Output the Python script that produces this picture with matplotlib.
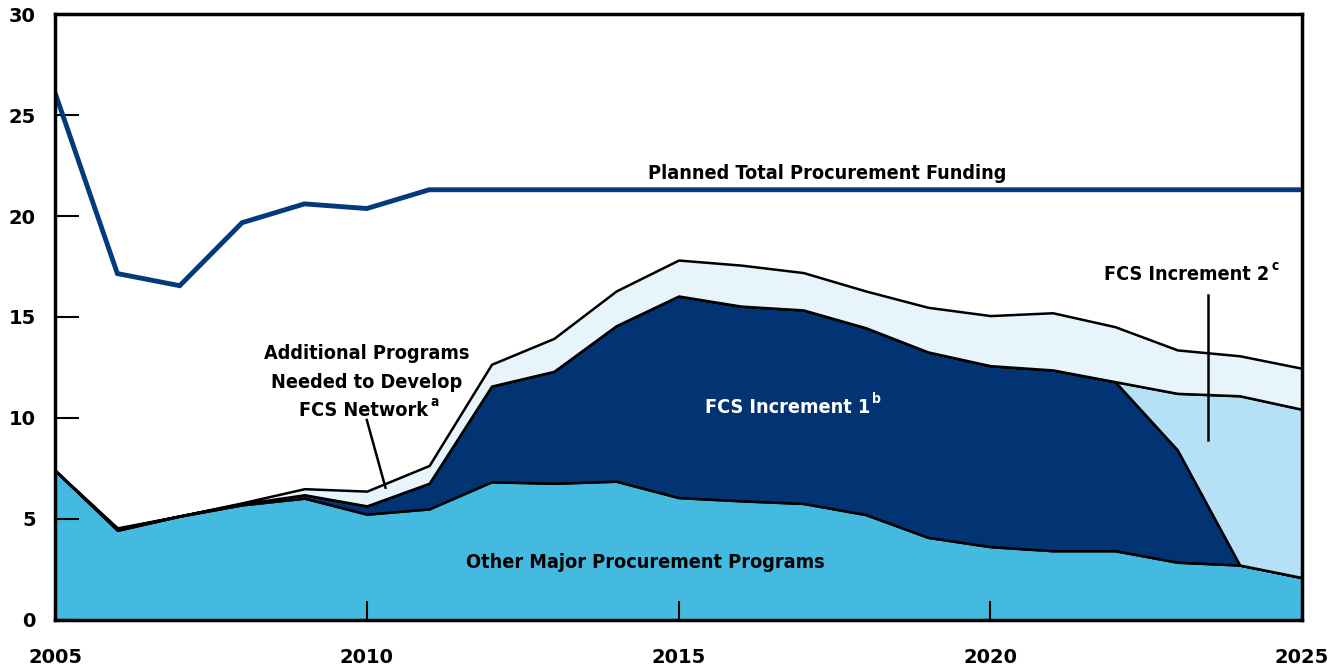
import matplotlib
matplotlib.use("Agg")
import matplotlib.pyplot as plt
import numpy as np


years = np.arange(2005, 2026)

# billions of dollars
other_major = [7.4, 4.44, 5.14, 5.7, 6.03, 5.24, 5.5, 6.84, 6.77, 6.87, 6.06,
               5.9, 5.77, 5.22, 4.09, 3.63, 3.43, 3.43, 2.86, 2.72, 2.1]
fcs_inc1 = [0, 0.06, 0.01, 0.05, 0.17, 0.41, 1.27, 4.74, 5.54, 7.7, 9.98,
            9.64, 9.58, 9.25, 9.18, 8.96, 8.95, 8.37, 5.56, 0, 0]
fcs_inc2 = [0, 0, 0, 0, 0, 0, 0, 0, 0, 0, 0,
            0, 0, 0, 0, 0, 0, 0, 2.8, 8.38, 8.33]
additional = [0, 0.06, 0, 0.05, 0.3, 0.73, 0.88, 1.08, 1.63, 1.72, 1.78,
              2.03, 1.85, 1.82, 2.21, 2.48, 2.83, 2.72, 2.15, 1.98, 2.03]
planned_total = [26.1, 17.15, 16.55, 19.67, 20.6, 20.37, 21.3, 21.3, 21.3, 21.3, 21.3,
                 21.3, 21.3, 21.3, 21.3, 21.3, 21.3, 21.3, 21.3, 21.3, 21.3]

xticks = [2005, 2010, 2015, 2020, 2025]
yticks = [0, 5, 10, 15, 20, 25, 30]

# DejaVu condensed stands in for the narrow face of the original
lab_font = dict(family=['DejaVu Sans'], fontstretch='condensed', fontweight='bold')
fs = 14.2

fig = plt.figure(figsize=(13.36, 6.68), dpi=100)
ax = fig.add_axes([0.0412, 0.0719, 0.9334, 0.9071])

ax.stackplot(years, other_major, fcs_inc1, fcs_inc2, additional,
             colors=['#44BAE0', '#023474', '#B5E0F5', '#E8F4FC'],
             edgecolor='black', linewidth=1.8)
ax.plot(years, planned_total, color='#023A7C', linewidth=3.5, solid_joinstyle='miter')

ax.set_xlim(2005, 2025)
ax.set_ylim(0, 30)
ax.set_xticks(xticks)
ax.set_yticks(yticks)
ax.tick_params(axis='y', direction='in', length=17, width=1.5, pad=14)
ax.tick_params(axis='x', direction='in', length=14, width=1.5, pad=20)
for lab in ax.get_xticklabels() + ax.get_yticklabels():
    lab.set_fontweight('bold')
    lab.set_fontsize(14)
for sp in ax.spines.values():
    sp.set_linewidth(2.5)


def sup(artist, s, color='black'):
    ax.annotate(s, xy=(1, 0.95), xycoords=artist, xytext=(1.5, 0),
                textcoords='offset points', color=color, fontsize=10,
                ha='left', va='center', **lab_font)


# labels
ax.text(2017.38, 22.1, 'Planned Total Procurement Funding',
        fontsize=fs, ha='center', va='center', **lab_font)
ax.text(2014.46, 2.85, 'Other Major Procurement Programs',
        fontsize=fs, ha='center', va='center', **lab_font)

t1 = ax.text(2016.75, 10.5, 'FCS Increment 1', color='white',
             fontsize=fs, ha='center', va='center', **lab_font)
sup(t1, 'b', 'white')

t2 = ax.text(2023.15, 17.1, 'FCS Increment 2', color='black',
             fontsize=fs, ha='center', va='center', **lab_font)
sup(t2, 'c')
ax.plot([2023.49, 2023.49], [16.1, 8.9], color='black', linewidth=1.8)

ax.text(2010.0, 13.17, 'Additional Programs', fontsize=fs,
        ha='center', va='center', **lab_font)
ax.text(2010.0, 11.75, 'Needed to Develop', fontsize=fs,
        ha='center', va='center', **lab_font)
t3 = ax.text(2009.95, 10.35, 'FCS Network', fontsize=fs,
             ha='center', va='center', **lab_font)
sup(t3, 'a')
ax.plot([2010.0, 2010.3], [9.9, 6.55], color='black', linewidth=1.8)

fig.savefig('out.png', dpi=100)
